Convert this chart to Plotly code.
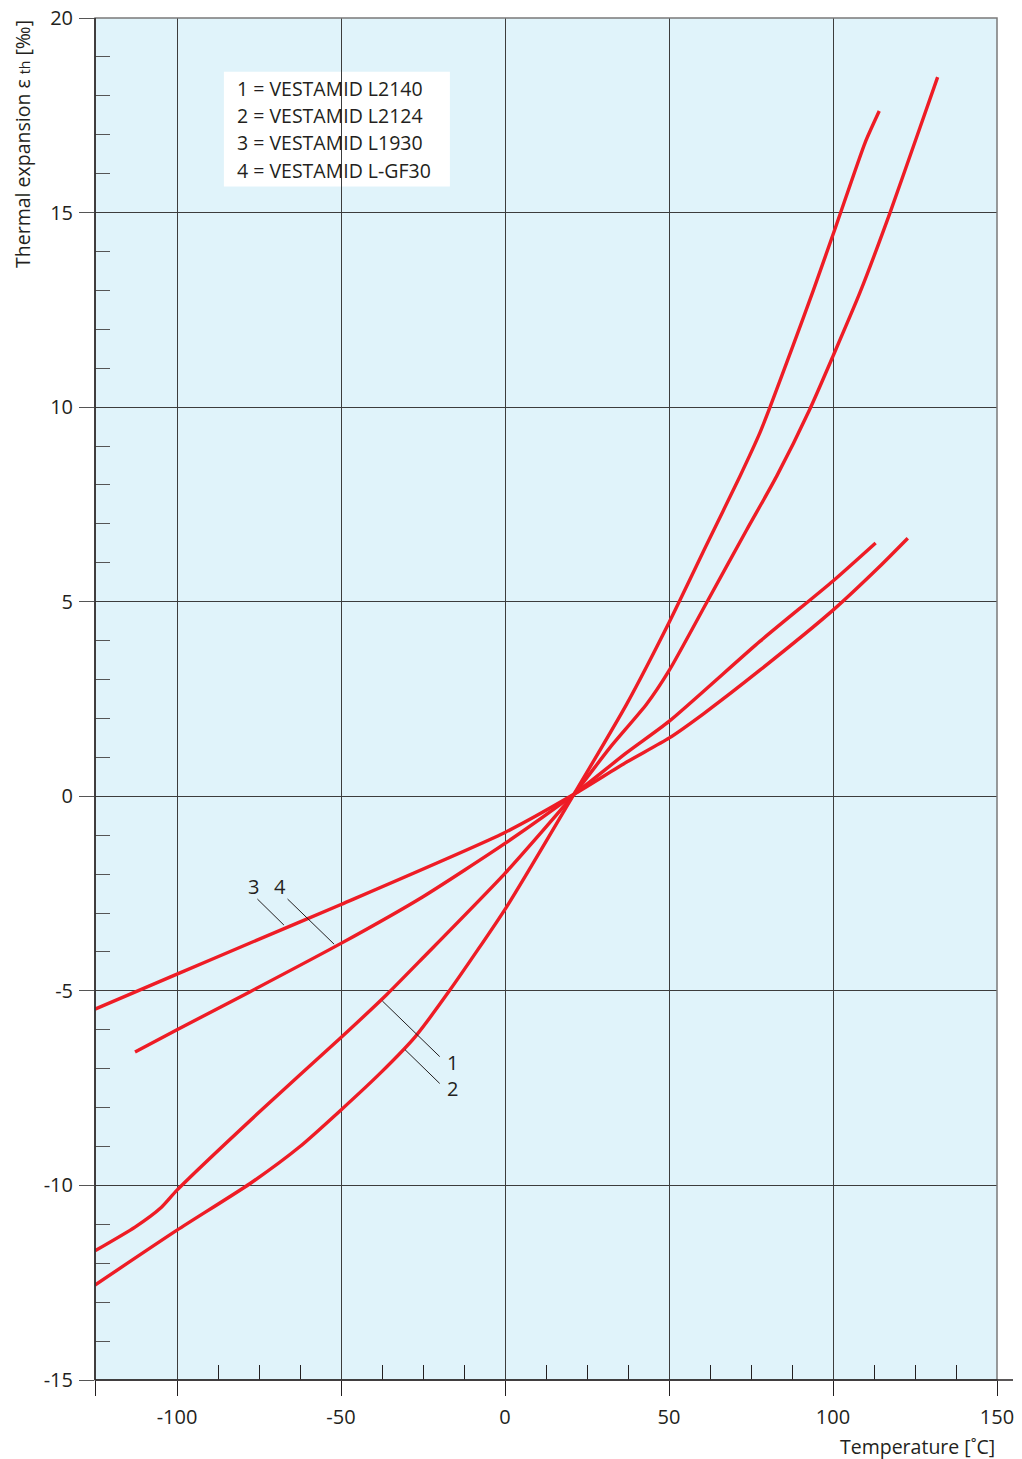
import plotly.graph_objects as go

# ---- data ----
temp_1 = [-125, -112.8, -105, -100, -75, -50, -36.1, -25, 0, 21, 32, 43.2, 50.1, 61.5, 73.7, 82.8, 93, 100.1, 108.2, 117.4, 126.5, 131.9]
exp_1 = [-11.68, -11.07, -10.58, -10.12, -8.12, -6.2, -5.1, -4.15, -1.98, 0.05, 1.25, 2.37, 3.24, 4.98, 6.85, 8.22, 9.96, 11.33, 12.94, 15.0, 17.18, 18.48]

temp_2 = [-125, -100, -77.7, -62.5, -50, -38.1, -27.4, -16.8, 0.5, 21, 37.1, 50.1, 61.5, 71.6, 77.7, 80.8, 87.9, 94, 101.1, 109.8, 114.1]
exp_2 = [-12.56, -11.15, -9.95, -9.0, -8.06, -7.12, -6.18, -4.98, -2.84, 0.05, 2.37, 4.48, 6.47, 8.22, 9.34, 10.0, 11.6, 13.0, 14.7, 16.8, 17.61]

temp_3 = [-125, -100, -77.7, -50, 0, 21, 37.1, 50.1, 60.5, 77.7, 100.1, 114.3, 122.8]
exp_3 = [-5.47, -4.57, -3.77, -2.78, -0.93, 0.05, 0.88, 1.5, 2.12, 3.24, 4.79, 5.91, 6.63]

temp_4 = [-112.8, -100, -77.7, -50, -25, 0, 21, 37.1, 50.1, 77.7, 100.1, 113]
exp_4 = [-6.57, -6.0, -5.02, -3.78, -2.58, -1.21, 0.05, 1.12, 1.93, 3.98, 5.54, 6.51]

legend_lines = ["1 = VESTAMID L2140", "2 = VESTAMID L2124", "3 = VESTAMID L1930", "4 = VESTAMID L-GF30"]

x_ticks = [-125, -100, -50, 0, 50, 100, 150]
x_tick_text = ["", "-100", "-50", "0", "50", "100", "150"]
y_ticks = [-15, -10, -5, 0, 5, 10, 15, 20]
y_tick_text = ["-15", "-10", "-5", "0", "5", "10", "15", "20"]
x_minor = [-87.5, -75, -62.5, -37.5, -25, -12.5, 12.5, 25, 37.5, 62.5, 75, 87.5, 112.5, 125, 137.5]
y_minor = [v for v in range(-14, 20) if v % 5 != 0]

# curve labels: text, label position, leader line start, leader line end
curve_labels = [
    ("3", -76.8, -2.31, -75.5, -2.64, -67.4, -3.31),
    ("4", -68.6, -2.31, -66.3, -2.64, -52.1, -3.80),
    ("1", -16.0, -6.83, -19.9, -6.69, -37.4, -5.26),
    ("2", -16.0, -7.52, -19.9, -7.38, -30.5, -6.51),
]

RED = "#ee1c25"
INK = "#231f20"
FONT = "Open Sans"

fig = go.Figure()
for xs, ys in [(temp_1, exp_1), (temp_2, exp_2), (temp_3, exp_3), (temp_4, exp_4)]:
    fig.add_trace(go.Scatter(x=xs, y=ys, mode="lines",
                             line=dict(color=RED, width=3.4, shape="spline", smoothing=0.6),
                             showlegend=False, hoverinfo="skip"))

shapes = []
# legend white box
shapes.append(dict(type="rect", xref="x", yref="y", x0=-85.7, x1=-16.8, y0=15.67, y1=18.62,
                   fillcolor="white", line=dict(width=0), layer="below"))
# plot border (gray right/top)
shapes.append(dict(type="rect", xref="paper", yref="paper", x0=0, x1=1, y0=0, y1=1,
                   line=dict(color="#7a7a7a", width=1.5), layer="above"))
# extended bottom axis line and left axis line
shapes.append(dict(type="line", xref="paper", yref="paper", x0=0, x1=1 + 16 / 902, y0=0, y1=0,
                   line=dict(color=INK, width=1.5), layer="above"))
shapes.append(dict(type="line", xref="paper", yref="paper", x0=0, x1=0, y0=0, y1=1,
                   line=dict(color=INK, width=1.5), layer="above"))

annotations = []
for txt, lx, ly, x0, y0, x1, y1 in curve_labels:
    annotations.append(dict(x=lx, y=ly, xref="x", yref="y", text=txt, showarrow=False,
                            font=dict(family=FONT, size=20, color=INK)))
    shapes.append(dict(type="line", xref="x", yref="y", x0=x0, y0=y0, x1=x1, y1=y1,
                       line=dict(color=INK, width=1)))

legend_y = [18.18, 17.49, 16.79, 16.07]
for txt, yy in zip(legend_lines, legend_y):
    annotations.append(dict(x=-82.3, y=yy, xref="x", yref="y", text=txt, showarrow=False,
                            xanchor="left", yanchor="middle",
                            font=dict(family=FONT, size=19.5, color=INK)))

annotations.append(dict(x=-0.081, y=1.0, xref="paper", yref="paper",
                        text="Thermal expansion ε <span style='font-size:14px'>th</span> [‰]",
                        textangle=-90, showarrow=False, xanchor="center", yanchor="top",
                        font=dict(family=FONT, size=19.5, color=INK)))
annotations.append(dict(x=1.0, y=-0.049, xref="paper", yref="paper", text="Temperature [˚C]",
                        showarrow=False, xanchor="right", yanchor="middle",
                        font=dict(family=FONT, size=19.5, color=INK)))

fig.update_layout(
    width=1022, height=1459,
    margin=dict(l=95, r=25, t=18, b=79, autoexpand=False),
    paper_bgcolor="white", plot_bgcolor="#e0f3fa",
    font=dict(family=FONT, color=INK, size=20),
    shapes=shapes, annotations=annotations,
    xaxis=dict(range=[-125, 150], tickmode="array", tickvals=x_ticks, ticktext=x_tick_text,
               ticks="outside", ticklen=15, tickwidth=1.2, tickcolor=INK, automargin=False,
               showgrid=True, gridcolor="#3c3c3c", gridwidth=1, zeroline=False,
               showline=False, ticklabelstandoff=4,
               tickfont=dict(family=FONT, size=20, color=INK),
               minor=dict(tickmode="array", tickvals=x_minor, ticks="inside", ticklen=15,
                          tickwidth=1.2, tickcolor=INK, showgrid=False)),
    yaxis=dict(range=[-15, 20], tickmode="array", tickvals=y_ticks, ticktext=y_tick_text,
               ticks="outside", ticklen=15, tickwidth=1.2, tickcolor="#555", automargin=False,
               showgrid=True, gridcolor="#3c3c3c", gridwidth=1, zeroline=False,
               showline=False, ticklabelstandoff=2,
               tickfont=dict(family=FONT, size=20, color=INK),
               minor=dict(tickmode="array", tickvals=y_minor, ticks="inside", ticklen=15,
                          tickwidth=1.2, tickcolor="#555", showgrid=False)),
)

fig.write_html("out.html", config={"displayModeBar": False},
               post_script="document.body.style.margin='0';document.body.style.overflow='hidden';")
